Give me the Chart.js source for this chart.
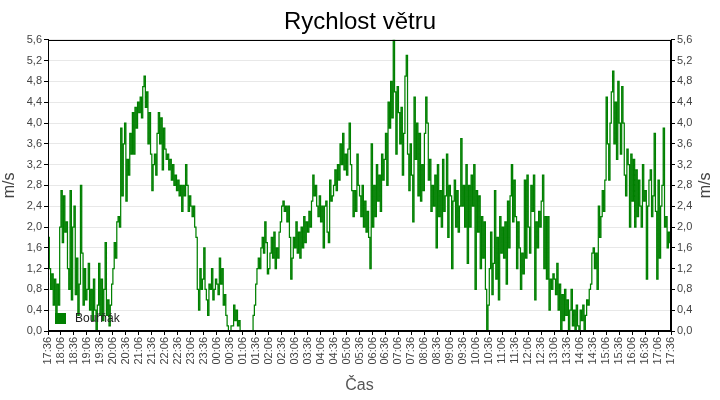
<!DOCTYPE html>
<html lang="cs">
<head>
<meta charset="UTF-8">
<title>Rychlost větru</title>
<script src="https://cdn.jsdelivr.net/npm/chart.js"></script>
<style>
  body { margin: 0; background: #fff; }
  #wrap { width: 720px; height: 400px; }
</style>
</head>
<body>
<div id="wrap"><canvas id="windChart"></canvas></div>
<script>
// one reading every 3 minutes, starting at 17:36
const startMinute = 17 * 60 + 36;
const stepMinutes = 3;
const seriesName = 'Bouřňák';

// 17:36 - 23:36
const speedEvening = [
  1.8, 1.2, 0.8, 1.1, 0.5, 1.0, 0.2, 0.9, 0.5, 2.0,
  2.7, 1.7, 2.6, 1.9, 2.1, 1.2, 0.8, 2.7, 0.6, 2.0,
  2.4, 0.7, 1.4, 0.3, 0.9, 2.8, 1.5, 0.5, 1.2, 0.6,
  0.8, 1.3, 0.4, 0.8, 0.2, 1.0, 0.4, 0.0, 0.5, 1.3,
  0.3, 1.0, 0.2, 0.8, 1.7, 0.3, 0.6, 0.1, 0.5, 0.9,
  1.2, 1.7, 1.4, 2.1, 2.2, 2.0, 3.9, 2.6, 3.6, 4.0,
  2.5, 3.3, 3.0, 3.8, 3.4, 4.2, 3.4, 4.3, 3.9, 4.4,
  4.2, 4.5, 4.1, 4.7, 4.9, 4.3, 4.6, 3.6, 4.2, 3.4,
  2.7, 3.2, 3.4, 3.0, 3.8, 4.2, 3.6, 4.1, 3.1, 3.9,
  3.5, 3.3, 3.4, 3.1, 3.3, 2.9, 3.2, 2.8, 3.0, 2.7,
  2.9, 2.6, 2.8, 2.3, 2.8, 2.6, 3.2, 2.8, 2.3, 2.6,
  2.4, 2.2, 2.4, 2.0, 1.8, 0.8, 0.4, 1.2, 0.8, 1.0
];
// 23:36 - 05:36
const speedNight = [
  1.6, 0.8, 0.6, 0.3, 0.9, 0.8, 1.2, 0.6, 0.8, 1.0,
  0.9, 0.7, 1.4, 0.9, 1.2, 0.5, 0.7, 0.3, 0.1, 0.0,
  0.0, 0.1, 0.1, 0.5, 0.2, 0.4, 0.1, 0.2, 0.0, 0.0,
  0.0, 0.0, 0.0, 0.0, 0.0, 0.0, 0.0, 0.0, 0.3, 0.5,
  0.9, 1.2, 1.4, 1.2, 1.6, 1.8, 1.5, 2.1, 1.7, 1.1,
  1.2, 1.5, 1.8, 1.4, 1.9, 1.2, 1.6, 1.4, 1.9, 2.1,
  2.4, 2.5, 2.3, 2.4, 2.1, 2.4, 1.8, 1.0, 1.4, 1.8,
  1.6, 2.1, 1.5, 1.9, 1.4, 2.0, 1.6, 2.2, 1.7, 2.1,
  1.9, 2.3, 2.0, 2.5, 3.0, 2.6, 2.8, 2.4, 2.2, 2.6,
  2.1, 2.4, 1.6, 2.4, 2.5, 1.9, 1.7, 2.9, 2.5, 2.6,
  2.8, 3.1, 2.7, 3.2, 2.9, 3.6, 3.2, 3.8, 3.1, 3.4,
  3.0, 3.5, 4.0, 3.2, 2.7, 2.2, 2.7, 2.3, 3.4, 2.8
];
// 05:36 - 11:36
const speedMorning = [
  2.6, 2.2, 2.8, 2.0, 2.5, 1.9, 2.3, 1.8, 1.2, 3.6,
  2.0, 2.8, 2.2, 3.2, 2.5, 3.0, 2.3, 3.4, 2.9, 3.3,
  3.8, 2.8, 4.4, 3.9, 4.8, 4.1, 5.6, 4.6, 3.4, 4.7,
  4.2, 3.6, 4.3, 3.0, 3.8, 4.9, 5.3, 3.4, 2.7, 3.6,
  3.0, 2.1, 4.5, 3.3, 4.0, 2.6, 3.8, 2.5, 3.2, 2.7,
  3.8, 4.5, 4.0, 2.9, 3.3, 2.3, 2.8, 2.4, 3.0, 1.6,
  3.2, 2.2, 2.7, 2.0, 3.3, 2.3, 2.6, 3.4, 1.8, 2.8,
  2.6, 1.2, 2.5, 2.9, 2.0, 2.7, 1.9, 2.4, 3.7, 2.4,
  2.8, 2.0, 3.2, 1.3, 2.8, 2.0, 3.0, 2.4, 3.2, 0.8,
  2.7, 1.9, 2.6, 1.2, 2.2, 1.4, 2.1, 0.8, 0.0, 0.5,
  1.2, 1.9, 0.7, 1.3, 2.7, 1.0, 1.8, 0.6, 2.2, 1.5,
  2.0, 1.4, 2.1, 0.9, 2.5, 1.6, 2.6, 3.2, 2.1, 2.9
];
// 11:36 - 17:36
const speedAfternoon = [
  2.2, 1.2, 2.1, 1.6, 0.8, 1.5, 1.1, 2.9, 1.4, 3.0,
  2.0, 1.5, 2.8, 2.3, 3.0, 0.6, 2.1, 1.6, 2.3, 2.0,
  2.5, 3.0, 1.2, 2.2, 1.0, 2.2, 0.4, 1.0, 0.8, 1.1,
  1.0, 0.7, 1.3, 0.4, 0.9, 0.0, 0.7, 0.2, 0.8, 0.3,
  0.6, 0.0, 0.4, 0.8, 0.1, 0.4, 0.0, 0.5, 0.1, 0.0,
  0.4, 0.2, 0.5, 0.0, 0.3, 0.6, 0.5, 0.8, 0.9, 1.5,
  1.6, 1.2, 1.5, 0.8, 2.4, 1.8, 2.2, 2.7, 2.3, 2.9,
  4.5, 3.6, 2.9, 4.0, 4.6, 5.0, 3.6, 4.4, 3.3, 4.8,
  4.0, 3.4, 4.7, 4.0, 3.0, 2.6, 3.5, 3.2, 2.0, 3.4,
  2.5, 3.3, 2.0, 3.1, 2.2, 2.9, 2.4, 2.0, 3.2, 2.5,
  2.7, 1.0, 2.4, 2.9, 3.1, 2.2, 2.6, 3.8, 2.3, 1.0,
  2.9, 1.4, 2.4, 2.8, 3.9, 2.0, 2.2, 1.6, 1.9, 1.7,
  1.7
];

const speeds = [].concat(speedEvening, speedNight, speedMorning, speedAfternoon);
const points = speeds.map((v, i) => ({ x: i * stepMinutes, y: v }));

function clockLabel(m) {
  const t = (startMinute + m) % 1440;
  const h = Math.floor(t / 60), mm = t % 60;
  return String(h).padStart(2, '0') + ':' + String(mm).padStart(2, '0');
}
const decimalComma = v => v.toFixed(1).replace('.', ',');

const fontFamily = '"Liberation Sans", Arial, sans-serif';
const lineColor = '#008000';

// frame on top of the plot, legend inside it, right-hand axis title
const extrasPlugin = {
  id: 'extras',
  afterDraw(chart) {
    const { ctx, chartArea: a } = chart;
    ctx.save();
    ctx.strokeStyle = '#000';
    ctx.lineWidth = 1;
    ctx.strokeRect(Math.round(a.left) + 0.5, Math.round(a.top) + 0.5,
      Math.round(a.right - a.left) - 1, Math.round(a.bottom - a.top) - 1);

    ctx.fillStyle = lineColor;
    ctx.fillRect(a.left + 7, a.bottom - 18, 11, 11);
    ctx.fillStyle = '#222';
    ctx.font = '12px ' + fontFamily;
    ctx.textBaseline = 'middle';
    ctx.fillText(chart.data.datasets[0].label, a.left + 27, a.bottom - 12);

    ctx.translate(706, (a.top + a.bottom) / 2);
    ctx.rotate(-Math.PI / 2);
    ctx.textAlign = 'center';
    ctx.fillStyle = '#444';
    ctx.font = '16px ' + fontFamily;
    ctx.fillText('m/s', 0, 0);
    ctx.restore();
  }
};

const yTicks = {
  stepSize: 0.4,
  maxTicksLimit: 30,
  color: '#444',
  font: { family: fontFamily, size: 11 },
  padding: 2,
  callback: v => decimalComma(v)
};

new Chart(document.getElementById('windChart'), {
  type: 'line',
  data: {
    datasets: [{
      label: seriesName,
      data: points,
      borderColor: lineColor,
      backgroundColor: lineColor,
      borderWidth: 1.25,
      pointRadius: 0,
      stepped: true,
      fill: false
    }]
  },
  options: {
    responsive: true,
    maintainAspectRatio: false,
    animation: false,
    layout: { padding: 0 },
    plugins: {
      legend: { display: false },
      tooltip: { enabled: false },
      title: {
        display: true,
        text: 'Rychlost větru',
        color: '#000',
        font: { family: fontFamily, size: 24, weight: 'normal' },
        padding: { top: 8, bottom: 3 }
      }
    },
    scales: {
      x: {
        type: 'linear',
        min: 0,
        max: 1440,
        afterFit: s => { s.height = 69; },
        grid: { drawOnChartArea: false, tickLength: 4, color: '#000' },
        border: { color: '#000' },
        ticks: {
          stepSize: 30,
          maxTicksLimit: 100,
          autoSkip: false,
          minRotation: 90,
          maxRotation: 90,
          padding: 2,
          color: '#444',
          font: { family: fontFamily, size: 11 },
          callback: v => clockLabel(v)
        },
        title: {
          display: true,
          text: 'Čas',
          color: '#555',
          font: { family: fontFamily, size: 16 },
          padding: { top: 2, bottom: 5 }
        }
      },
      y: {
        position: 'left',
        min: 0,
        max: 5.6,
        afterFit: s => { s.width = 48; },
        grid: { color: '#e8e8e8', tickLength: 4, tickColor: '#000' },
        border: { color: '#000' },
        ticks: yTicks,
        title: {
          display: true,
          text: 'm/s',
          color: '#444',
          font: { family: fontFamily, size: 16 },
          padding: { top: 0, bottom: 2 }
        }
      },
      y1: {
        position: 'right',
        min: 0,
        max: 5.6,
        afterFit: s => { s.width = 49; },
        grid: { drawOnChartArea: false, tickLength: 4, color: '#000' },
        border: { color: '#000' },
        ticks: yTicks
      }
    }
  },
  plugins: [extrasPlugin]
});
</script>
</body>
</html>
